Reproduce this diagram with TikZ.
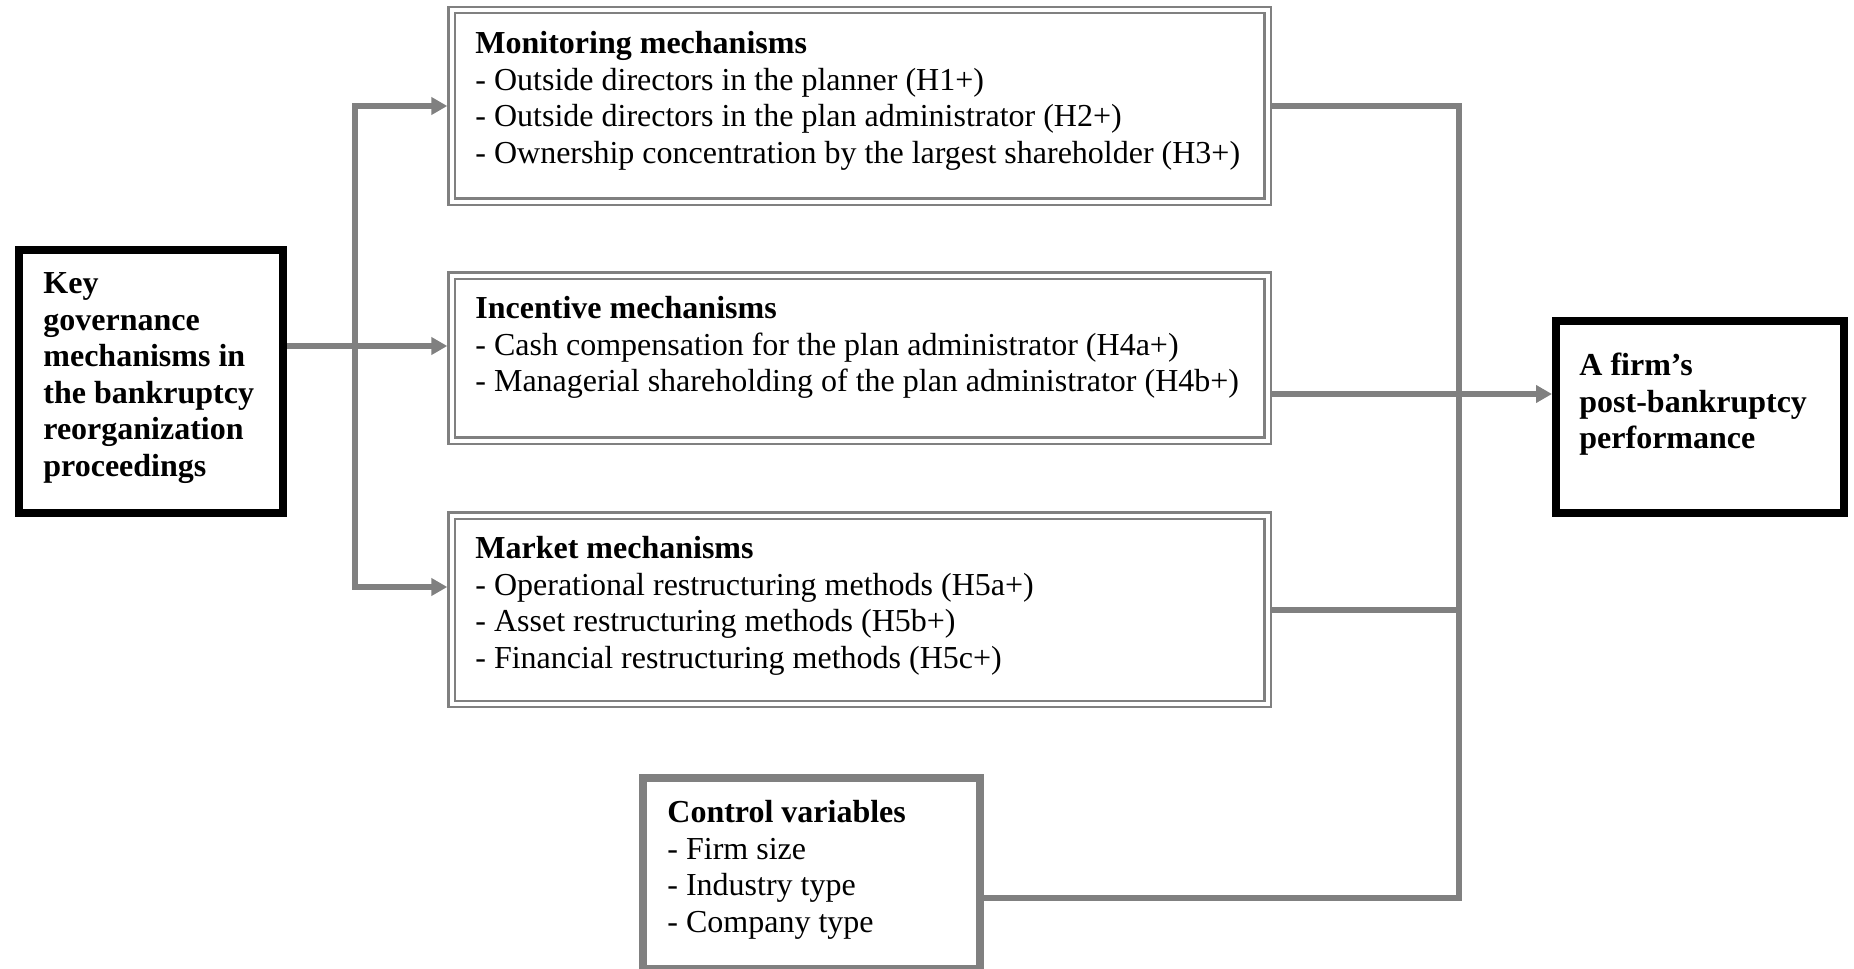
\documentclass[tikz,border=0pt]{standalone}
\usepackage{fontspec}
\setmainfont{Liberation Serif}
\usetikzlibrary{arrows.meta,fit}
% fixed first-line height: a node's north edge lies 14pt above its first baseline
\newcommand\lnstrut{\rule{0pt}{14pt}}

\begin{document}
\begin{tikzpicture}[
  x=0.5pt, y=-0.5pt,
  txt/.style={inner sep=0pt, anchor=north west, align=left,
              font=\fontsize{16}{18.3}\selectfont},
  dbox/.style={draw=gray, line width=1.1pt, double=white,
               double distance=2pt, inner sep=0pt, outer sep=2.1pt},
  heavybox/.style={draw=black, line width=4pt, inner sep=0pt},
  ctrlbox/.style={draw=gray, line width=4pt, inner sep=0pt},
  link/.style={draw=gray, line width=2.75pt, line join=miter},
  tip/.style={-{Triangle[length=8pt,width=8.5pt]}},
]
\useasboundingbox (0,0) rectangle (1854,969);

% mechanism boxes (double outline)
\node[dbox, fit={(451.5,10) (1267.5,201.5)}]  (mon) {};
\node[dbox, fit={(451.5,275.5) (1267.5,440.5)}] (inc) {};
\node[dbox, fit={(451.5,515.5) (1267.5,704)}]  (mkt) {};

% outer boxes
\node[heavybox, fit={(19,250) (283,513)}]   (gov)  {};
\node[heavybox, fit={(1556,321) (1844,513)}] (perf) {};
\node[ctrlbox,  fit={(643,778) (979.5,969)}] (ctrl) {};

% texts (positions are first baseline minus 28 units)
\node[txt] (govT) at (43,265) {\lnstrut\textbf{Key}\\\textbf{governance}\\\textbf{mechanisms in}\\\textbf{the bankruptcy}\\\textbf{reorganization}\\\textbf{proceedings}};
\node[txt] (monT) at (475,25) {\lnstrut\textbf{Monitoring mechanisms}\\- Outside directors in the planner (H1+)\\- Outside directors in the plan administrator (H2+)\\- Ownership concentration by the largest shareholder (H3+)};
\node[txt] (incT) at (475,290) {\lnstrut\textbf{Incentive mechanisms}\\- Cash compensation for the plan administrator (H4a+)\\- Managerial shareholding of the plan administrator (H4b+)};
\node[txt] (mktT) at (475,530) {\lnstrut\textbf{Market mechanisms}\\- Operational restructuring methods (H5a+)\\- Asset restructuring methods (H5b+)\\- Financial restructuring methods (H5c+)};
\node[txt] (ctrlT) at (667,794) {\lnstrut\textbf{Control variables}\\- Firm size\\- Industry type\\- Company type};
\node[txt] (perfT) at (1579,347) {\lnstrut\textbf{A firm’s}\\\textbf{post-bankruptcy}\\\textbf{performance}};

% junction points
\coordinate (lt) at (355,106);
\coordinate (lb) at (355,587);
\coordinate (lm) at (355,346);
\coordinate (rt) at (1459,106);
\coordinate (rm) at (1459,394);
\coordinate (rk) at (1459,610);
\coordinate (rb) at (1459,898);

% left side: governance to the three mechanism groups
\draw[link, tip] (gov.east |- lm) -- (inc.west |- lm);
\draw[link, {Triangle[length=8pt,width=8.5pt]}-{Triangle[length=8pt,width=8.5pt]}]
  (mon.west |- lt) -- (lt) -- (lb) -- (mkt.west |- lb);

% right side: mechanisms and controls to performance
\draw[link] (mon.east |- rt) -- (rt) -- (rb) -- (ctrl.east |- rb);
\draw[link] (mkt.east |- rk) -- (rk);
\draw[link, tip] (inc.east |- rm) -- (perf.west |- rm);
\end{tikzpicture}
\end{document}
